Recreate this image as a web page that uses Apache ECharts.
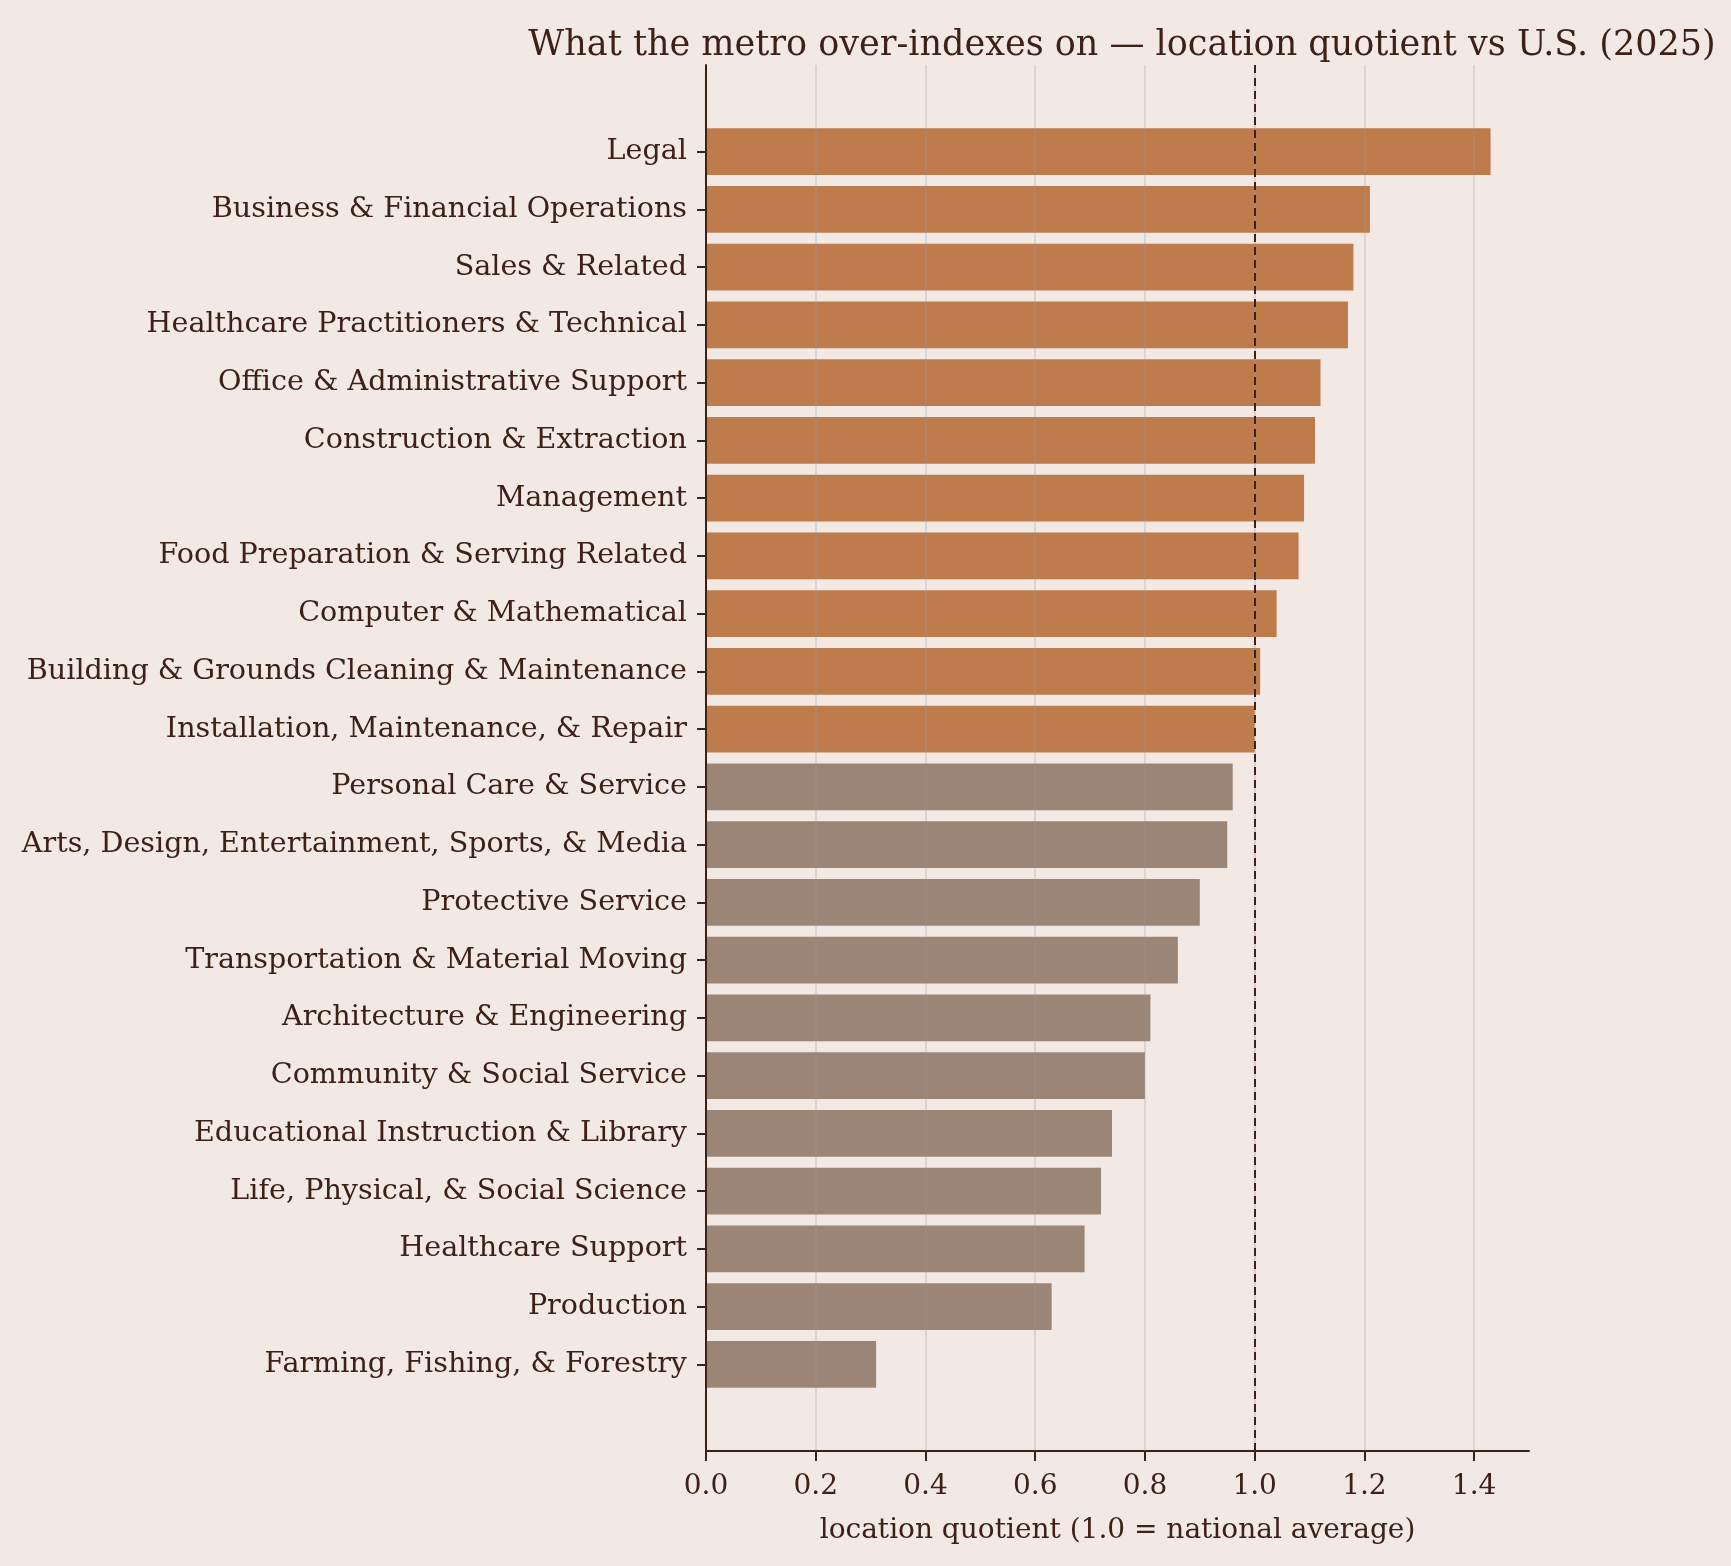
<!DOCTYPE html>
<html>
<head>
<meta charset="utf-8">
<script src="https://cdn.jsdelivr.net/npm/echarts@6/dist/echarts.min.js"></script>
<style>
  html, body { margin: 0; padding: 0; background: #F2E9E4; }
  #chart { width: 1731px; height: 1566px; }
</style>
</head>
<body>
<div id="chart"></div>
<script>
// occupations, top to bottom
var categories = [
  'Legal',
  'Business & Financial Operations',
  'Sales & Related',
  'Healthcare Practitioners & Technical',
  'Office & Administrative Support',
  'Construction & Extraction',
  'Management',
  'Food Preparation & Serving Related',
  'Computer & Mathematical',
  'Building & Grounds Cleaning & Maintenance',
  'Installation, Maintenance, & Repair',
  'Personal Care & Service',
  'Arts, Design, Entertainment, Sports, & Media',
  'Protective Service',
  'Transportation & Material Moving',
  'Architecture & Engineering',
  'Community & Social Service',
  'Educational Instruction & Library',
  'Life, Physical, & Social Science',
  'Healthcare Support',
  'Production',
  'Farming, Fishing, & Forestry'
];
var lq = [1.43, 1.21, 1.18, 1.17, 1.12, 1.11, 1.09, 1.08, 1.04, 1.01, 1.00,
          0.96, 0.95, 0.90, 0.86, 0.81, 0.80, 0.74, 0.72, 0.69, 0.63, 0.31];
var xTicks = [0.0, 0.2, 0.4, 0.6, 0.8, 1.0, 1.2, 1.4];
var nationalAvg = 1.0;

var ink = '#3D2117';
var font = '"DejaVu Serif", "Liberation Serif", serif';

// one empty slot above and below, like the extra margin in the original
var yCats = [''].concat(categories, ['']);
var yVals = ['-'].concat(lq, ['-']);

var myChart = echarts.init(document.getElementById('chart'), null, { renderer: 'canvas' });

// grid lines as marklines so they sit over the bars and stop at 1.4
var gridLines = xTicks.slice(1).map(function (t) {
  return { xAxis: t, lineStyle: { color: 'rgba(150,150,160,0.25)', width: 2, type: 'solid' } };
});

var option = {
  backgroundColor: '#F2E9E4',
  animation: false,
  title: {
    text: 'What the metro over-indexes on \u2014 location quotient vs U.S. (2025)',
    left: 1117,
    top: 23,
    textAlign: 'center',
    textStyle: { fontFamily: font, fontSize: 35, fontWeight: 'normal', color: ink }
  },
  grid: { left: 706, right: 202, top: 65, bottom: 115 },
  xAxis: {
    type: 'value',
    min: 0,
    max: 1.5,
    z: 3,
    name: 'location quotient (1.0 = national average)',
    nameLocation: 'middle',
    nameGap: 66,
    nameTextStyle: { fontFamily: font, fontSize: 28, color: ink },
    axisLine: { show: true, lineStyle: { color: ink, width: 2 } },
    axisTick: { show: true, length: 10, customValues: xTicks, lineStyle: { color: ink, width: 2 } },
    axisLabel: {
      fontFamily: font, fontSize: 28, color: ink, margin: 22,
      customValues: xTicks,
      formatter: function (v) { return v.toFixed(1); }
    },
    splitLine: { show: false }
  },
  yAxis: {
    type: 'category',
    data: yCats,
    inverse: true,
    z: 3,
    axisLine: { show: true, lineStyle: { color: ink, width: 2 } },
    axisTick: {
      show: true, length: 9, alignWithLabel: true,
      interval: function (i, v) { return v !== ''; },
      lineStyle: { color: ink, width: 2 }
    },
    axisLabel: {
      interval: 0, fontFamily: font, fontSize: 28.6, color: ink, margin: 19,
      padding: [10, 0, 0, 0]
    },
    splitLine: { show: false }
  },
  series: [{
    type: 'bar',
    data: yVals,
    barWidth: '81%',
    itemStyle: {
      color: function (p) { return p.value >= nationalAvg ? '#BE7C4C' : '#9B8577'; }
    },
    markLine: {
      silent: true,
      symbol: 'none',
      label: { show: false },
      lineStyle: { color: ink, width: 2, type: [8, 5] },
      data: gridLines.concat([{ xAxis: nationalAvg }])
    }
  }]
};

myChart.setOption(option);
window.addEventListener('resize', myChart.resize);
</script>
</body>
</html>
